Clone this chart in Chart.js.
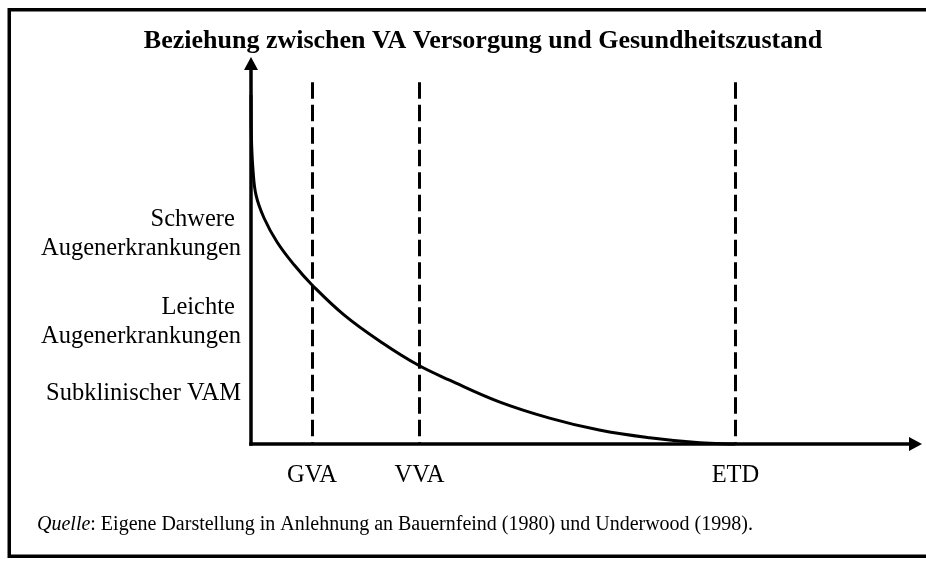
<!DOCTYPE html>
<html lang="de">
  <head>
    <meta charset="UTF-8" />
    <title>Beziehung zwischen VA Versorgung und Gesundheitszustand</title>
    <script src="https://cdn.jsdelivr.net/npm/chart.js@4"></script>
    <style>
      body { margin: 0; background: #fff; }
      canvas { display: block; }
    </style>
  </head>
  <body>
    <canvas id="myChart" width="926" height="561"></canvas>
    <script>
      // curve (x = VA Versorgung, y = Gesundheitszustand, both 0..100)
      const supplyX = [0, 0.07, 0.3, 0.75, 1.94, 3.88, 6.42, 9.1, 13.9, 19.6, 24.9, 29.6, 37.0, 44.5, 51.9, 59.4, 66.9, 72.2];
      const healthY = [90.2, 78.6, 70.8, 64.3, 58.4, 52.2, 46.3, 41.1, 33.3, 26.1, 20.4, 16.5, 10.9, 6.7, 3.6, 1.6, 0.3, 0];

      // vertical dashed markers
      const markerLabels = ["GVA", "VVA", "ETD"];
      const markerX = [9.1, 25.1, 72.2];
      const markerTop = 93.5;

      // labels along the y axis
      const stageLabels = [["Schwere ", "Augenerkrankungen"], ["Leichte ", "Augenerkrankungen"], ["Subklinischer VAM"]];
      const stageY = [54.2, 31.5, 13.0];

      const title = "Beziehung zwischen VA Versorgung und Gesundheitszustand";
      const sourceLead = "Quelle";
      const sourceText = ": Eigene Darstellung in Anlehnung an Bauernfeind (1980) und Underwood (1998).";

      const serif = '"Liberation Serif", "Times New Roman", serif';

      const decor = {
        id: "decor",
        beforeDatasetsDraw(chart) {
          const { ctx, chartArea: a, scales } = chart;
          ctx.save();
          ctx.strokeStyle = "#000";
          // outer frame (runs off the right edge)
          ctx.lineWidth = 3.5;
          ctx.strokeRect(9.25, 9.75, 960, 546.5);
          // dashed markers
          ctx.lineWidth = 3;
          ctx.setLineDash([16.5, 6]);
          markerX.forEach((v) => {
            const px = Math.round(scales.x.getPixelForValue(v)) + 0.5;
            ctx.beginPath();
            ctx.moveTo(px, scales.y.getPixelForValue(markerTop));
            ctx.lineTo(px, a.bottom);
            ctx.stroke();
          });
          ctx.restore();
        },
        afterDatasetsDraw(chart) {
          const { ctx, chartArea: a, scales } = chart;
          ctx.save();
          ctx.strokeStyle = "#000";
          ctx.fillStyle = "#000";
          ctx.lineWidth = 3.5;
          ctx.lineCap = "butt";

          // y axis + arrow
          ctx.beginPath();
          ctx.moveTo(a.left, a.bottom + 1.75);
          ctx.lineTo(a.left, a.top + 10);
          ctx.stroke();
          ctx.beginPath();
          ctx.moveTo(a.left, a.top);
          ctx.lineTo(a.left - 7, a.top + 13);
          ctx.lineTo(a.left + 7, a.top + 13);
          ctx.closePath();
          ctx.fill();

          // x axis + arrow
          ctx.beginPath();
          ctx.moveTo(a.left - 1.75, a.bottom);
          ctx.lineTo(a.right - 10, a.bottom);
          ctx.stroke();
          ctx.beginPath();
          ctx.moveTo(a.right, a.bottom);
          ctx.lineTo(a.right - 13, a.bottom - 7);
          ctx.lineTo(a.right - 13, a.bottom + 7);
          ctx.closePath();
          ctx.fill();

          // title
          ctx.font = "bold 26px " + serif;
          ctx.textAlign = "center";
          ctx.textBaseline = "alphabetic";
          ctx.fillText(title, 483, 48);

          // marker labels
          ctx.font = "24.5px " + serif;
          markerLabels.forEach((t, i) => {
            ctx.fillText(t, scales.x.getPixelForValue(markerX[i]), a.bottom + 38);
          });

          // stage labels
          ctx.textAlign = "right";
          ctx.textBaseline = "middle";
          const lh = 28.6;
          stageLabels.forEach((lines, i) => {
            const cy = scales.y.getPixelForValue(stageY[i]);
            lines.forEach((line, j) => {
              ctx.fillText(line, a.left - 10, cy + (j - (lines.length - 1) / 2) * lh);
            });
          });

          // source line
          ctx.textAlign = "left";
          ctx.textBaseline = "alphabetic";
          ctx.font = "italic 20px " + serif;
          ctx.fillText(sourceLead, 37, 530);
          const w = ctx.measureText(sourceLead).width;
          ctx.font = "20px " + serif;
          ctx.fillText(sourceText, 37 + w, 530);
          ctx.restore();
        },
      };

      const ctx = document.getElementById("myChart").getContext("2d");
      new Chart(ctx, {
        type: "line",
        data: {
          datasets: [
            {
              data: supplyX.map((x, i) => ({ x, y: healthY[i] })),
              borderColor: "#000",
              borderWidth: 3,
              pointRadius: 0,
              fill: false,
              clip: false,
              tension: 0.4,
            },
          ],
        },
        options: {
          responsive: false,
          animation: false,
          events: [],
          layout: { padding: { left: 251, top: 57, right: 4, bottom: 117 } },
          plugins: { legend: { display: false }, tooltip: { enabled: false } },
          scales: {
            x: { type: "linear", min: 0, max: 100, display: false },
            y: { type: "linear", min: 0, max: 100, display: false },
          },
        },
        plugins: [decor],
      });
    </script>
  </body>
</html>
